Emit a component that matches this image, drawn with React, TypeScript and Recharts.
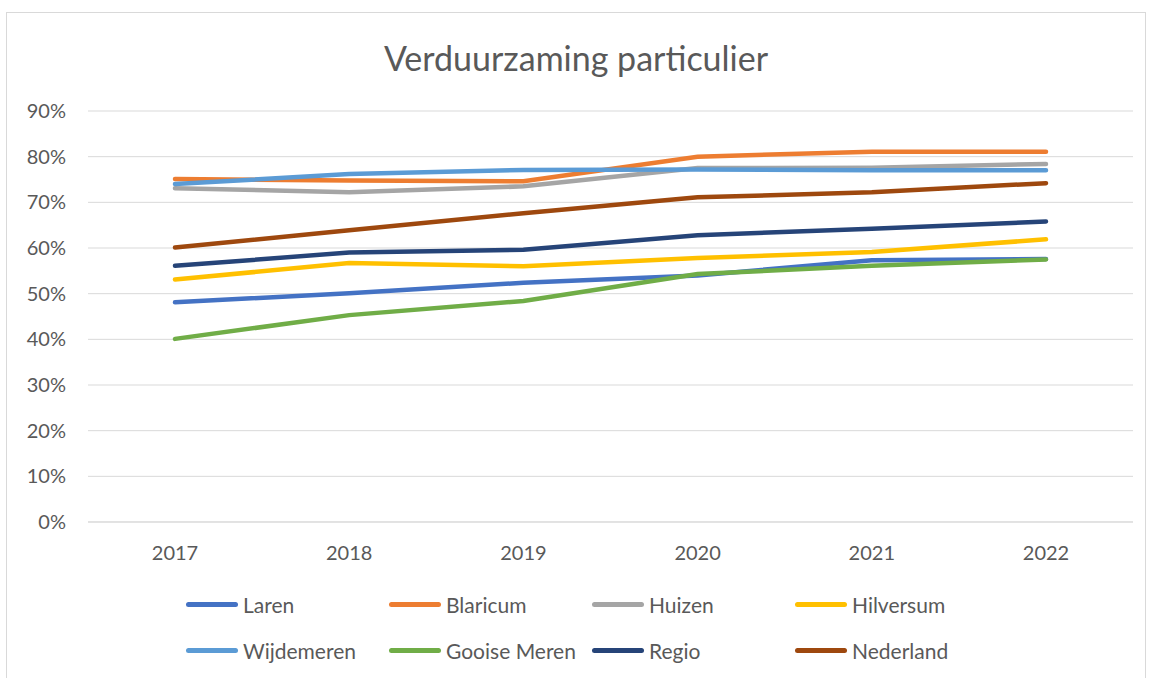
import { CartesianGrid, Line, LineChart, XAxis, YAxis } from "recharts";

const years = ["2017", "2018", "2019", "2020", "2021", "2022"];

const laren = [48.1, 50.1, 52.4, 54.0, 57.3, 57.6];
const blaricum = [75.1, 74.8, 74.6, 80.0, 81.1, 81.1];
const huizen = [73.1, 72.2, 73.5, 77.5, 77.6, 78.4];
const hilversum = [53.1, 56.7, 56.0, 57.8, 59.1, 61.9];
const wijdemeren = [74.0, 76.2, 77.1, 77.2, 77.0, 77.0];
const gooiseMeren = [40.1, 45.3, 48.4, 54.3, 56.1, 57.5];
const regio = [56.1, 59.0, 59.6, 62.8, 64.2, 65.8];
const nederland = [60.1, 63.9, 67.6, 71.1, 72.2, 74.2];

const yTicks = [0, 10, 20, 30, 40, 50, 60, 70, 80, 90];

const series = [
  { key: "Laren", values: laren, color: "#4472C4" },
  { key: "Blaricum", values: blaricum, color: "#ED7D31" },
  { key: "Huizen", values: huizen, color: "#A5A5A5" },
  { key: "Hilversum", values: hilversum, color: "#FFC000" },
  { key: "Wijdemeren", values: wijdemeren, color: "#5B9BD5" },
  { key: "Gooise Meren", values: gooiseMeren, color: "#70AD47" },
  { key: "Regio", values: regio, color: "#264478" },
  { key: "Nederland", values: nederland, color: "#9E480E" },
];

const data = years.map((year, i) => {
  const row: Record<string, string | number> = { year };
  series.forEach((s) => {
    row[s.key] = s.values[i];
  });
  return row;
});

const FONT = "Lato, 'Open Sans', sans-serif";
const TEXT = "#595959";

function ChartLegend() {
  return (
    <div
      style={{
        position: "absolute",
        left: 179,
        top: 579,
        display: "grid",
        gridTemplateColumns: "repeat(4, 203px)",
        rowGap: 22,
        fontFamily: FONT,
        fontSize: 21,
        color: TEXT,
      }}
    >
      {series.map((s) => (
        <div key={s.key} style={{ display: "flex", alignItems: "center", height: 24, whiteSpace: "nowrap" }}>
          <span
            style={{
              display: "inline-block",
              width: 52,
              height: 5,
              borderRadius: 3,
              background: s.color,
              marginRight: 5,
              flexShrink: 0,
            }}
          />
          <span>{s.key}</span>
        </div>
      ))}
    </div>
  );
}

export default function App() {
  return (
    <div
      style={{
        position: "absolute",
        left: 6,
        top: 12,
        width: 1140,
        height: 670,
        border: "1px solid #d9d9d9",
        background: "#fff",
        boxSizing: "border-box",
      }}
    >
      <div
        style={{
          position: "absolute",
          top: 24,
          left: 0,
          width: "100%",
          textAlign: "center",
          fontFamily: FONT,
          fontSize: 34,
          color: TEXT,
        }}
      >
        Verduurzaming particulier
      </div>
      <LineChart
        width={1140}
        height={668}
        data={data}
        margin={{ top: 98, right: 14, bottom: 129, left: 0 }}
      >
        <CartesianGrid horizontal vertical={false} stroke="#d9d9d9" strokeWidth={1} />
        <XAxis
          dataKey="year"
          padding={{ left: 87, right: 87 }}
          tickLine={false}
          axisLine={{ stroke: "#d9d9d9" }}
          tickMargin={18}
          tick={{ fill: TEXT, fontSize: 20, fontFamily: FONT }}
        />
        <YAxis
          width={81}
          domain={[0, 90]}
          ticks={yTicks}
          tickFormatter={(v) => `${v}%`}
          tickLine={false}
          axisLine={false}
          tickSize={0}
          tickMargin={22}
          tick={{ fill: TEXT, fontSize: 20, fontFamily: FONT }}
        />
        {series.map((s) => (
          <Line
            key={s.key}
            type="linear"
            dataKey={s.key}
            stroke={s.color}
            strokeWidth={4.5}
            strokeLinecap="round"
            dot={false}
            activeDot={false}
            isAnimationActive={false}
          />
        ))}
      </LineChart>
      <ChartLegend />
    </div>
  );
}
